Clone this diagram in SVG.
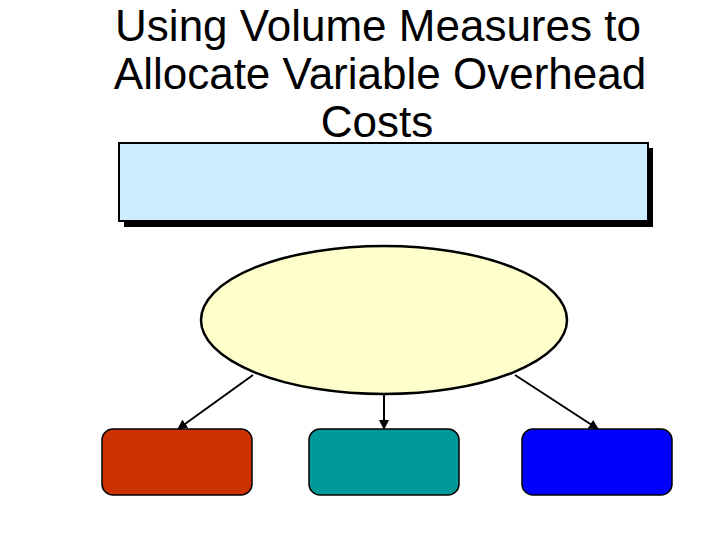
<svg xmlns="http://www.w3.org/2000/svg" width="720" height="540" viewBox="0 0 720 540">
<style>
.title{font-family:"Liberation Sans",Arial,sans-serif;font-size:44px;fill:#000;text-anchor:middle}
.box{stroke:#000;stroke-width:1.5}
.conn{stroke:#000;stroke-width:2;fill:none;marker-end:url(#ah)}
</style>
<defs>
<marker id="ah" viewBox="0 0 10 10" refX="9" refY="5" markerWidth="5" markerHeight="5" orient="auto" markerUnits="strokeWidth">
<path d="M0,0 L10,5 L0,10 z" fill="#000"/>
</marker>
</defs>
<rect width="720" height="540" fill="#fff"/>
<g id="title">
<text class="title" x="378" y="41">Using Volume Measures to</text>
<text class="title" x="380" y="89">Allocate Variable Overhead</text>
<text class="title" x="377" y="137">Costs</text>
</g>
<g id="header">
<rect x="124" y="148" width="529" height="79" fill="#000"/>
<rect x="119" y="143" width="529" height="78" fill="#CCECFF" stroke="#000" stroke-width="2"/>
</g>
<g id="ellipse">
<ellipse cx="384" cy="320" rx="183" ry="74" fill="#FFFFCC" stroke="#000" stroke-width="2.5"/>
</g>
<g id="connectors">
<line class="conn" x1="253" y1="375" x2="178" y2="429"/>
<line class="conn" x1="384" y1="394" x2="384" y2="429"/>
<line class="conn" x1="515" y1="375" x2="598" y2="429"/>
</g>
<g id="box1"><rect class="box" x="102" y="429" width="150" height="66" rx="11" fill="#CC3300"/></g>
<g id="box2"><rect class="box" x="309" y="429" width="150" height="66" rx="11" fill="#009999"/></g>
<g id="box3"><rect class="box" x="522" y="429" width="150" height="66" rx="11" fill="#0000FF"/></g>
</svg>
